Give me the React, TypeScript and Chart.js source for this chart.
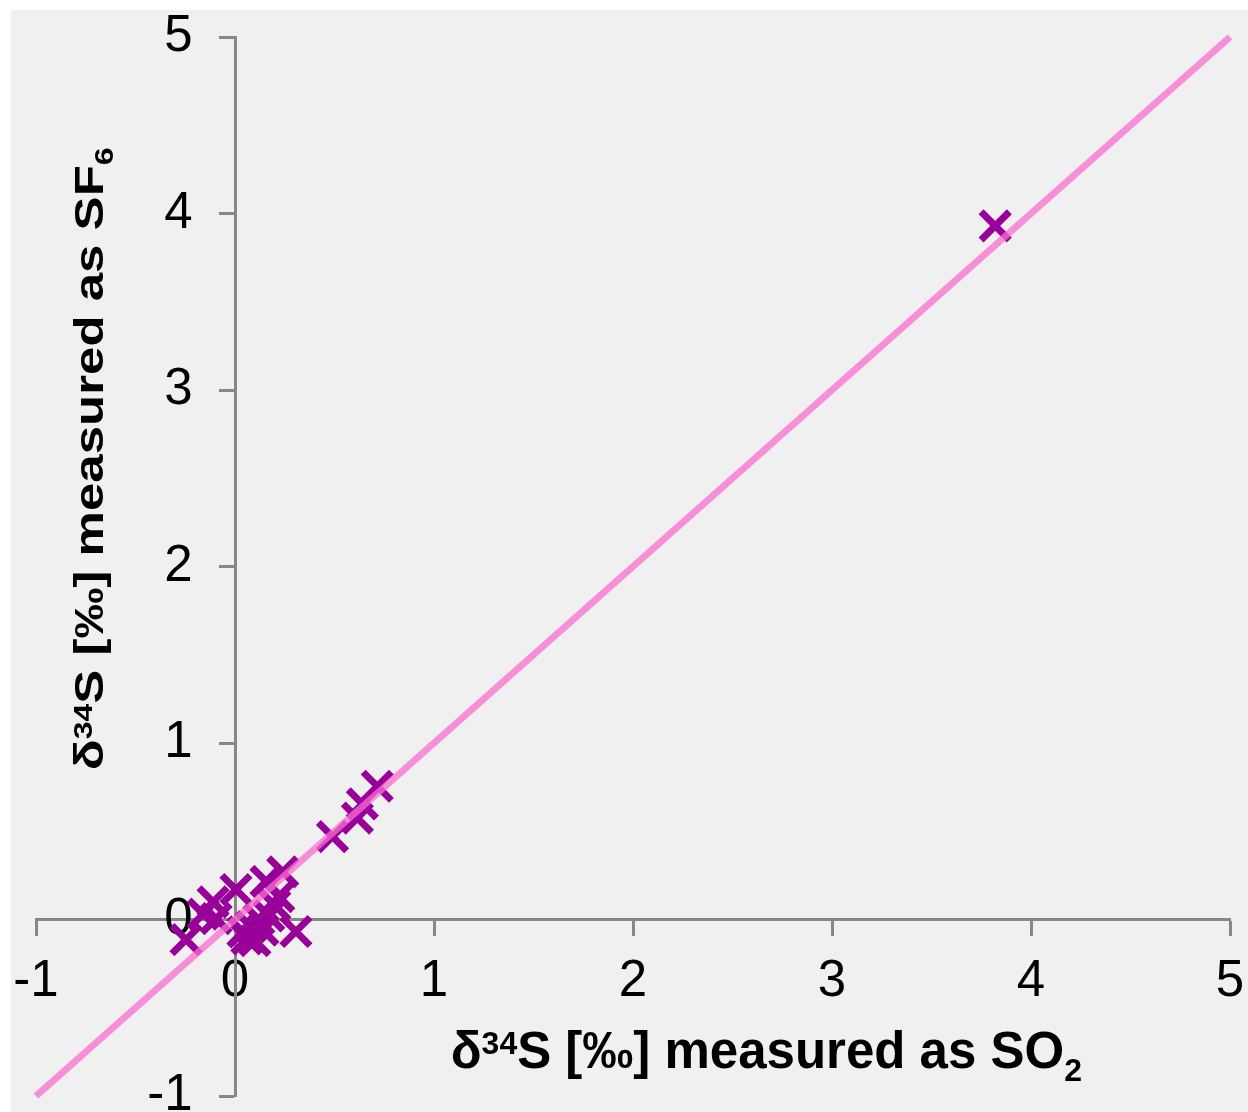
import React, { useEffect, useRef } from 'react';
import { Chart, registerables } from 'chart.js';

Chart.register(...registerables);

// δ34S measured as SO2 (x) and as SF6 (y), per sample
const so2Values = [3.82, 0.715, 0.64, 0.615, 0.49, 0.24, 0.156, 0.005, -0.11, -0.16, -0.095, -0.246, 0.306, 0.06, 0.10, 0.14, 0.08, 0.17, 0.20, 0.12, 0.22, 0.04];
const sf6Values = [3.93, 0.755, 0.655, 0.575, 0.47, 0.27, 0.216, 0.17, 0.10, 0.03, 0.005, -0.114, -0.068, -0.11, -0.12, -0.06, -0.04, 0.02, 0.08, 0.0, 0.13, -0.07];

// 1:1 reference line
const lineX = [-1, 5];
const lineY = [-1, 5];

const axisMin = -1;
const axisMax = 5;

const xTitleSegments = [
  { t: 'δ', s: 1, dy: 0 },
  { t: '34', s: 0.62, dy: -0.27 },
  { t: 'S [‰] measured as SO', s: 1, dy: 0 },
  { t: '2', s: 0.62, dy: 0.25 },
];
const yTitleSegments = [
  { t: 'δ', s: 1, dy: 0 },
  { t: '34', s: 0.62, dy: -0.27 },
  { t: 'S [‰] measured as SF', s: 1, dy: 0 },
  { t: '6', s: 0.62, dy: 0.25 },
];

const FONT = '"Liberation Sans", Arial, sans-serif';

function drawRich(ctx: CanvasRenderingContext2D, segs: any[], cx: number, baseline: number, size: number) {
  let total = 0;
  const widths: number[] = [];
  for (const sg of segs) {
    ctx.font = `bold ${Math.round(size * sg.s)}px ${FONT}`;
    const w = ctx.measureText(sg.t).width;
    widths.push(w);
    total += w;
  }
  let x = cx - total / 2;
  ctx.textBaseline = 'alphabetic';
  ctx.textAlign = 'left';
  ctx.fillStyle = '#000';
  segs.forEach((sg, i) => {
    ctx.font = `bold ${Math.round(size * sg.s)}px ${FONT}`;
    ctx.fillText(sg.t, x, baseline + sg.dy * size);
    x += widths[i];
  });
}

const titlePlugin = {
  id: 'richAxisTitles',
  afterDraw(chart: any) {
    const ctx = chart.ctx as CanvasRenderingContext2D;
    const xs = chart.scales.x;
    const ys = chart.scales.y;
    ctx.save();
    // x title
    drawRich(ctx, xTitleSegments, xs.getPixelForValue(2.67), ys.getPixelForValue(-0.841), 51);
    // y title (rotated)
    ctx.translate(xs.getPixelForValue(-0.663), ys.getPixelForValue(2.61));
    ctx.rotate(-Math.PI / 2);
    ctx.scale(1, 0.78);
    drawRich(ctx, yTitleSegments, 0, 0, 51);
    ctx.restore();
  },
};

const zeroPadding = (s: any) => {
  s.paddingLeft = 0;
  s.paddingRight = 0;
  s.paddingTop = 0;
  s.paddingBottom = 0;
};

export default function App() {
  const ref = useRef<HTMLCanvasElement | null>(null);
  useEffect(() => {
    if (!ref.current) return;
    const points = so2Values.map((v, i) => ({ x: v, y: sf6Values[i] }));
    const line = lineX.map((v, i) => ({ x: v, y: lineY[i] }));
    const grid = {
      drawOnChartArea: false,
      drawTicks: true,
      tickLength: 15,
      tickWidth: 3,
      tickColor: '#878787',
    };
    const chart = new Chart(ref.current, {
      type: 'scatter',
      data: {
        datasets: [
          {
            type: 'line',
            data: line,
            borderColor: 'rgba(249,111,208,0.75)',
            borderWidth: 7,
            pointRadius: 0,
            order: 0,
            clip: false,
          } as any,
          {
            data: points,
            pointStyle: 'crossRot',
            pointRadius: 20,
            pointBorderWidth: 7,
            borderColor: '#990099',
            backgroundColor: '#990099',
            order: 1,
            clip: false,
          },
        ],
      },
      options: {
        animation: false,
        responsive: true,
        maintainAspectRatio: false,
        layout: { autoPadding: false, padding: { left: 25, top: 27, right: 18, bottom: 16 } },
        plugins: { legend: { display: false }, tooltip: { enabled: false } },
        scales: {
          x: {
            type: 'linear',
            min: axisMin,
            max: axisMax,
            position: { y: 0 },
            grid,
            border: { color: '#878787', width: 3 },
            ticks: {
              stepSize: 1,
              color: '#000',
              font: { family: FONT, size: 51 },
              padding: 17,
              maxRotation: 0,
            },
            afterFit: (s: any) => { s.height = 0; zeroPadding(s); },
          } as any,
          y: {
            type: 'linear',
            min: axisMin,
            max: axisMax,
            position: { x: 0 },
            grid,
            border: { color: '#878787', width: 3 },
            ticks: {
              stepSize: 1,
              color: '#000',
              font: { family: FONT, size: 51 },
              callback: (v: any) => `${v}   `,
            },
            afterFit: (s: any) => { s.width = 0; zeroPadding(s); },
          } as any,
        },
      },
      plugins: [titlePlugin],
    });
    return () => chart.destroy();
  }, []);
  return (
    <div style={{ position: 'absolute', left: 11, top: 10, width: 1237, height: 1102, background: '#f0f0f0' }}>
      <canvas ref={ref} />
    </div>
  );
}
